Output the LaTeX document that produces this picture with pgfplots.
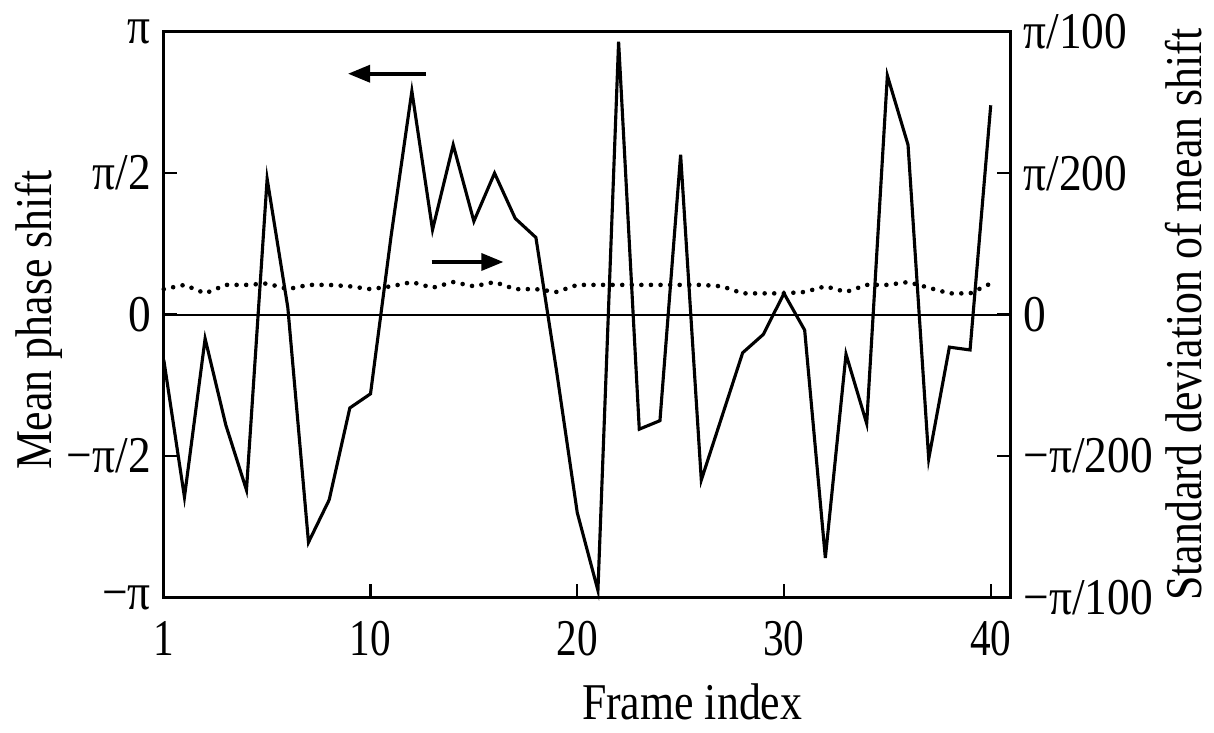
\documentclass[border=0pt]{standalone}
\usepackage{fontspec}
\setmainfont{Liberation Serif}
\usepackage{graphicx}
\usepackage{pgfplots}
\pgfplotsset{compat=1.18}
\usetikzlibrary{arrows.meta}

% mean phase shift, in units of pi/2
\pgfplotstableread{
x y
0 -0.32
1 -1.29
2 -0.17
3 -0.78
4 -1.24
5 0.96
6 0.05
7 -1.61
8 -1.31
9 -0.66
10 -0.56
11 0.56
12 1.58
13 0.60
14 1.20
15 0.66
16 1.00
17 0.68
18 0.545
19 -0.40
20 -1.40
21 -1.95
22 1.93
23 -0.81
24 -0.75
25 1.13
26 -1.17
27 -0.72
28 -0.27
29 -0.14
30 0.15
31 -0.11
32 -1.72
33 -0.28
34 -0.77
35 1.69
36 1.20
37 -1.02
38 -0.23
39 -0.25
40 1.48
}\meanshift

% standard deviation, in units of pi/200
\pgfplotstableread{
x y
0 0.18
1 0.21
2 0.15
3 0.21
4 0.21
5 0.22
6 0.18
7 0.21
8 0.21
9 0.20
10 0.18
11 0.20
12 0.23
13 0.19
14 0.23
15 0.20
16 0.23
17 0.18
18 0.18
19 0.16
20 0.21
21 0.21
22 0.21
23 0.21
24 0.21
25 0.21
26 0.21
27 0.20
28 0.15
29 0.15
30 0.15
31 0.16
32 0.20
33 0.16
34 0.21
35 0.21
36 0.23
37 0.19
38 0.15
39 0.15
40 0.22
}\stdshift

\newcommand{\fs}{\fontsize{14}{16}\selectfont}
\newcommand{\sq}[1]{\scalebox{0.88}[1]{#1}}
\newcommand{\sx}[1]{\scalebox{0.8}[1]{#1}}

\begin{document}
\begin{tikzpicture}
\pgfplotsset{
  common/.style={
    scale only axis, width=229.9pt, height=153.6pt,
    xmin=0, xmax=40.96, ymin=-2, ymax=2,
    ytick={-2,-1,0,1,2},
    tick align=inside, major tick length=3.6pt,
    axis line style={line width=0.7pt},
    every tick/.style={black, line width=0.6pt},
    tick label style={font=\fs},
    label style={font=\fs},
    clip=false,
  },
}
\begin{axis}[common,
    xtick={0,10,20,30,40},
    xticklabels={\sx{1},\sx{10},\sx{20},\sx{30},\sx{40}},
    xticklabel style={yshift=-3pt},
    xtick pos=bottom, ytick pos=left,
    yticklabels={\sq{−π},\sq{−π/2},\sq{0},\sq{π/2},\sq{π}},
    xlabel={\scalebox{0.85}[1]{Frame index}},
    xlabel style={at={(axis description cs:0.624,-0.185)}, anchor=center},
    ylabel={\scalebox{0.85}[1]{Mean phase shift}},
    ylabel style={at={(axis description cs:-0.148,0.49)}, anchor=center},
  ]
  \draw[line width=0.55pt] (rel axis cs:0,0.5) -- (rel axis cs:1,0.5);
  \addplot[black, line width=0.85pt] table[x=x, y=y] {\meanshift};
  \draw[line width=1pt, -{Triangle[length=6pt,width=4.6pt]}]
    (axis cs:12.67,1.703) -- (axis cs:8.91,1.703);
  \draw[line width=1pt, -{Triangle[length=6pt,width=4.6pt]}]
    (axis cs:12.96,0.372) -- (axis cs:16.43,0.372);
\end{axis}
\begin{axis}[common,
    hide x axis,
    ytick pos=right, yticklabel pos=right,
    yticklabels={\sq{−π/100},\sq{−π/200},\sq{0},\sq{π/200},\sq{π/100}},
    ylabel={\scalebox{0.85}[1]{Standard deviation of mean shift}},
    ylabel style={at={(axis description cs:1.2040,0.5)}, anchor=center},
  ]
  \addplot[black, line width=1.25pt, line cap=round, dash pattern=on 0pt off 2.6pt]
    table[x=x, y=y] {\stdshift};
  \path (rel axis cs:-0.1934,-0.2193) rectangle (rel axis cs:1.2298,1.0561);
\end{axis}
\end{tikzpicture}
\end{document}
